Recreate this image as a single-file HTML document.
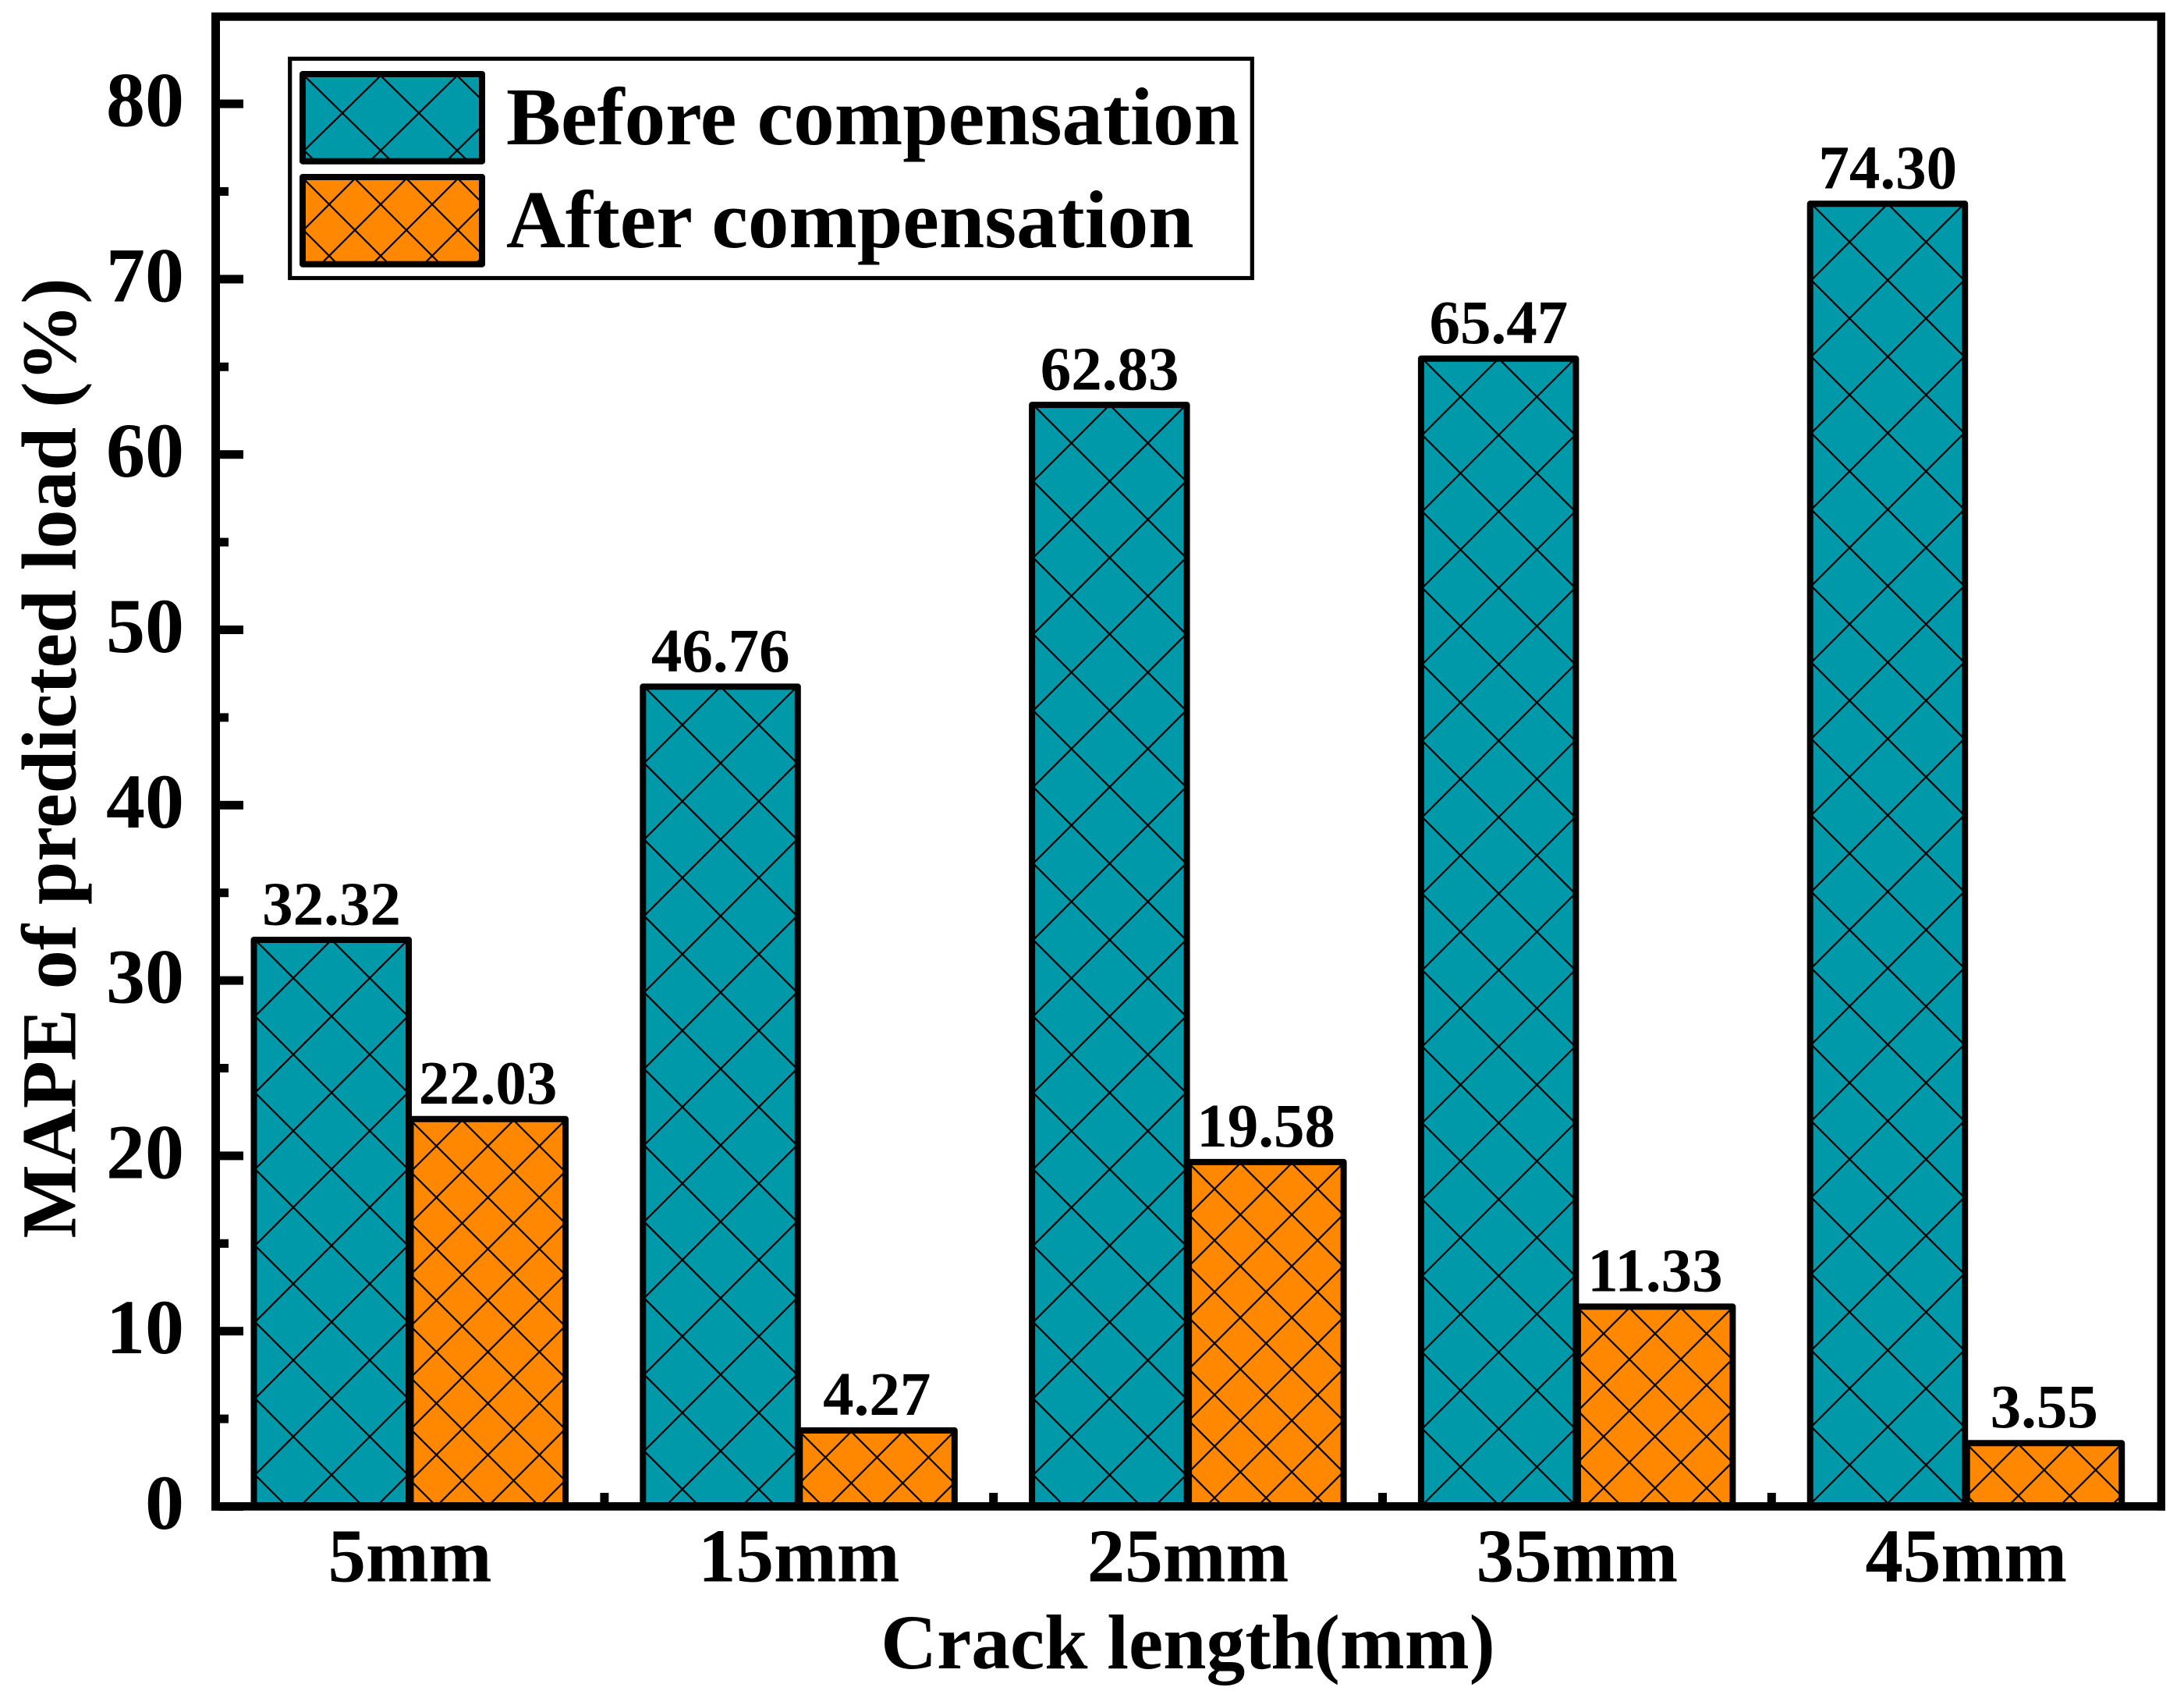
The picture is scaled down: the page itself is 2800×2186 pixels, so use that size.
<!DOCTYPE html>
<html lang="en">
<head>
<meta charset="utf-8">
<title>MAPE of predicted load before and after compensation</title>
<style>
html,body{margin:0;padding:0;background:#fff;width:2800px;height:2186px;overflow:hidden;}
svg{display:block;overflow:hidden;}
text{font-family:"Liberation Serif","Times New Roman",serif;font-weight:bold;fill:#000;}
</style>
</head>
<body>
<svg id="chart" xmlns="http://www.w3.org/2000/svg" width="2800" height="2186" viewBox="0 0 2800 2186">
  <rect x="0" y="0" width="2800" height="2186" fill="#ffffff"/>
  <defs id="clips"></defs>
  <g id="bars"></g>
  <g id="labels"></g>
  <g id="axes"></g>
  <text x="96.7" y="972" font-size="100" text-anchor="middle" transform="rotate(-90 96.7 972)">MAPE of predicted load (%)</text>
  <text x="1523" y="2139" font-size="99.5" text-anchor="middle">Crack length(mm)</text>
  <g id="legend">
    <rect x="371.7" y="75.3" width="1233.6" height="281.2" fill="#ffffff" stroke="#000" stroke-width="5.2"/>
    <text x="649" y="185" font-size="105">Before compensation</text>
    <text x="649" y="317" font-size="105">After compensation</text>
  </g>
</svg>
<script>
const categories = ["5mm", "15mm", "25mm", "35mm", "45mm"];
const beforeValues = [32.32, 46.76, 62.83, 65.47, 74.30];
const afterValues = [22.03, 4.27, 19.58, 11.33, 3.55];
const yTickValues = [0, 10, 20, 30, 40, 50, 60, 70, 80];
const yMinorTickValues = [5, 15, 25, 35, 45, 55, 65, 75];

const SVGNS = "http://www.w3.org/2000/svg";
const TEAL = "#0099aa";
const ORANGE = "#ff8800";
const Y0 = 1931.5, Y_UNIT = 22.48;
const X_FIRST = 525.5, X_BAND = 498.8;

function yScale(v) { return Y0 - v * Y_UNIT; }
function xCenter(i) { return X_FIRST + i * X_BAND; }

function make(tag, attrs, parent) {
  const el = document.createElementNS(SVGNS, tag);
  for (const k in attrs) el.setAttribute(k, attrs[k]);
  parent.appendChild(el);
  return el;
}

/* Diagonal cross-hatch through the anchor point, with each line cut to the box. */
function hatchPath(ax, ay, W, H, x0, y0, x1, y1) {
  const D = Math.max(Math.abs(y0 - ay), Math.abs(y1 - ay)) * W / H;
  const kA = Math.floor((x0 - ax - D) / W);
  const kB = Math.ceil((x1 - ax + D) / W);
  const r = W / H;
  let d = "";
  for (let k = kA; k <= kB; k++) {
    const px = ax + k * W;
    let xa = Math.max(x0, px + (y0 - ay) * r);
    let xb = Math.min(x1, px + (y1 - ay) * r);
    if (xa < xb) {
      d += "M" + xa.toFixed(2) + " " + (ay + (xa - px) / r).toFixed(2) + "L" + xb.toFixed(2) + " " + (ay + (xb - px) / r).toFixed(2);
    }
    xa = Math.max(x0, px + (ay - y1) * r);
    xb = Math.min(x1, px + (ay - y0) * r);
    if (xa < xb) {
      d += "M" + xa.toFixed(2) + " " + (ay - (xa - px) / r).toFixed(2) + "L" + xb.toFixed(2) + " " + (ay - (xb - px) / r).toFixed(2);
    }
  }
  return d;
}

let clipCount = 0;
function hatchedBox(x, y, w, h, fill, ax, ay, W, H, parent) {
  const g = make("g", {}, parent);
  const clipId = "clip" + (clipCount++);
  const clip = make("clipPath", { id: clipId }, document.getElementById("clips"));
  make("rect", { x: x, y: y, width: w, height: h }, clip);
  make("rect", { x: x, y: y, width: w, height: h, fill: fill }, g);
  make("path", { d: hatchPath(ax, ay, W, H, x, y, x + w, y + h), stroke: "#000", "stroke-width": 2.2, fill: "none", "clip-path": "url(#" + clipId + ")" }, g);
  make("rect", { x: x, y: y, width: w, height: h, fill: "none", stroke: "#000", "stroke-width": 8, "stroke-linejoin": "round" }, g);
  return g;
}

const barsLayer = document.getElementById("bars");
const labelsLayer = document.getElementById("labels");
const axesLayer = document.getElementById("axes");
const legendLayer = document.getElementById("legend");

function drawLabel(cx, value, gap) {
  const t = make("text", { x: cx, y: yScale(value) - gap, "font-size": 79, "text-anchor": "middle" }, labelsLayer);
  t.textContent = value.toFixed(2);
  
  
}

categories.forEach(function (cat, i) {
  const c = xCenter(i);
  const topB = yScale(beforeValues[i]);
  const b = hatchedBox(c - 200, topB, 198.5, Y0 - topB, TEAL, c - 100.5, topB, 98, 98, barsLayer);
  
  
  const topA = yScale(afterValues[i]);
  const a = hatchedBox(c + 1, topA - 1.5, 198.5, Y0 - topA + 1.5, ORANGE, c + 100, topA + 33, 66, 66, barsLayer);
  
  
  drawLabel(c - 100.5, beforeValues[i], 19.5);
  drawLabel(c + 100, afterValues[i], 21.5);
  const xl = make("text", { x: c, y: 2027.5, "font-size": 97, "text-anchor": "middle" }, axesLayer);
  xl.textContent = cat;
  
  
  if (i < categories.length - 1) {
    const xt = make("rect", { x: c + X_BAND / 2 - 5.5, y: 1914, width: 11, height: 14, fill: "#000" }, axesLayer);
    
    
  }
});

yTickValues.forEach(function (v) {
  const y = yScale(v);
  const m = make("rect", { x: 280, y: y - 5.5, width: 32, height: 11, fill: "#000" }, axesLayer);
  
  
  const t = make("text", { x: 236, y: y + 28.5, "font-size": 100, "text-anchor": "end" }, axesLayer);
  t.textContent = String(v);
  
  
});

yMinorTickValues.forEach(function (v) {
  const y = yScale(v);
  const m = make("rect", { x: 280, y: y - 5.5, width: 13, height: 11, fill: "#000" }, axesLayer);
  
  
});

const frameLeft = make("rect", { x: 271, y: 16, width: 11, height: 1920.7, fill: "#000" }, axesLayer);


const frameBottom = make("rect", { x: 271, y: 1926, width: 2505, height: 10.7, fill: "#000" }, axesLayer);


const frameTop = make("rect", { x: 271, y: 16, width: 2505, height: 10.7, fill: "#000" }, axesLayer);


const frameRight = make("rect", { x: 2765.6, y: 16, width: 10.4, height: 1920.7, fill: "#000" }, axesLayer);



const swatchBefore = hatchedBox(388, 95, 230, 111.7, TEAL, 439, 145, 98, 96, legendLayer);


const swatchAfter = hatchedBox(388, 227, 230, 111.7, ORANGE, 422, 262, 66, 66, legendLayer);


</script>
</body>
</html>
